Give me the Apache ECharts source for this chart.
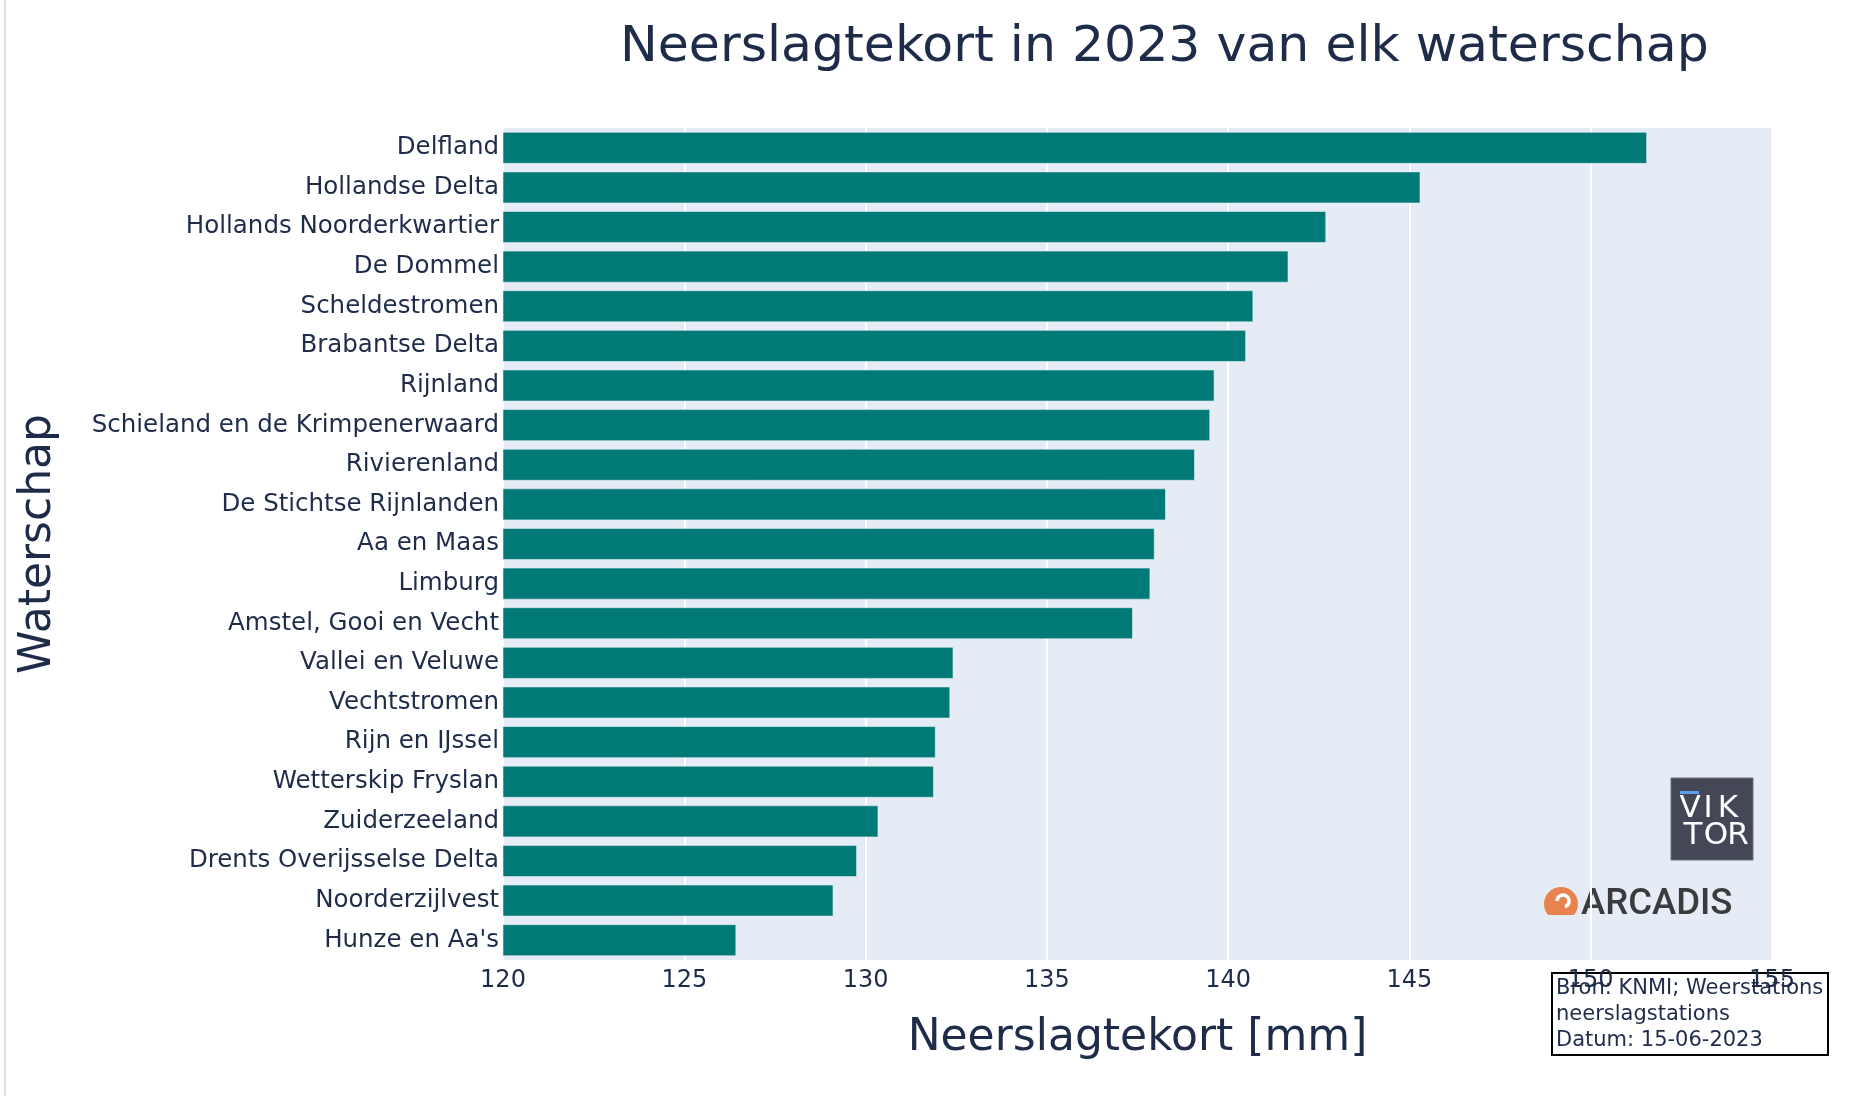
<!DOCTYPE html>
<html>
<head>
<meta charset="utf-8">
<script src="https://cdn.jsdelivr.net/npm/echarts@6/dist/echarts.min.js"></script>
<style>
  html, body { margin: 0; padding: 0; background: #fff; }
  #chart { width: 1860px; height: 1096px; }
</style>
</head>
<body>
<div id="chart"></div>
<script>
// waterschappen, top to bottom as in the picture
var waterschappen = [
  "Delfland", "Hollandse Delta", "Hollands Noorderkwartier", "De Dommel",
  "Scheldestromen", "Brabantse Delta", "Rijnland", "Schieland en de Krimpenerwaard",
  "Rivierenland", "De Stichtse Rijnlanden", "Aa en Maas", "Limburg",
  "Amstel, Gooi en Vecht", "Vallei en Veluwe", "Vechtstromen", "Rijn en IJssel",
  "Wetterskip Fryslan", "Zuiderzeeland", "Drents Overijsselse Delta",
  "Noorderzijlvest", "Hunze en Aa's"
];
// neerslagtekort in mm
var tekort = [
  151.55, 145.30, 142.70, 141.66,
  140.69, 140.49, 139.62, 139.50,
  139.08, 138.28, 137.97, 137.85,
  137.37, 132.42, 132.33, 131.93,
  131.88, 130.35, 129.76,
  129.11, 126.43
];
var xMin = 120, xMax = 155, xStep = 5;
var bronRegels = ["Bron: KNMI; Weerstations", "neerslagstations", "Datum: 15-06-2023"];

var navy = "#1e2c4a";
var font = "DejaVu Sans";

function logoLetter(ch, x, y) {
  return {
    type: "text",
    style: { x: x, y: y, text: ch, fill: "#ffffff", fontFamily: font, fontSize: 31,
             textAlign: "center", verticalAlign: "middle" }
  };
}

var myChart = echarts.init(document.getElementById("chart"));

var option = {
  backgroundColor: "#fff",
  textStyle: { fontFamily: font, color: navy },
  title: {
    text: "Neerslagtekort in 2023 van elk waterschap",
    left: 615,
    top: 17,
    textStyle: { fontFamily: font, fontSize: 50.5, fontWeight: "normal", color: navy }
  },
  grid: {
    left: 503,
    right: 88,
    top: 128,
    bottom: 136,
    show: true,
    backgroundColor: "#E5ECF6",
    borderWidth: 0
  },
  xAxis: {
    type: "value",
    min: xMin,
    max: xMax,
    interval: xStep,
    name: "Neerslagtekort [mm]",
    nameLocation: "middle",
    nameGap: 57,
    nameTextStyle: { fontFamily: font, fontSize: 44, color: navy },
    axisLine: { show: false },
    axisTick: { show: false },
    axisLabel: { fontFamily: font, fontSize: 24, color: navy, margin: 9 },
    splitLine: { show: true, lineStyle: { color: "#ffffff", width: 2 } }
  },
  yAxis: {
    type: "category",
    data: waterschappen,
    inverse: true,
    name: "Waterschap",
    nameLocation: "middle",
    nameGap: 442,
    nameRotate: 90,
    nameTextStyle: { fontFamily: font, fontSize: 44, color: navy },
    axisLine: { show: false },
    axisTick: { show: false },
    axisLabel: { fontFamily: font, fontSize: 24.5, color: navy, margin: 4 },
    splitLine: { show: false }
  },
  series: [
    {
      type: "bar",
      data: tekort,
      barCategoryGap: "20%",
      itemStyle: { color: "#017A77", borderColor: "#E5ECF6", borderWidth: 0.6 },
      silent: true
    }
  ],
  graphic: [
    // thin grey edge on the left of the image
    { type: "line", shape: { x1: 5, y1: 0, x2: 5, y2: 1096 }, style: { stroke: "#e2e2e2", lineWidth: 2 } },
    // VIKTOR logo
    { type: "rect", shape: { x: 1671, y: 778, width: 82, height: 82 }, style: { fill: "#434756", stroke: "#6e717d", lineWidth: 1 } },
    { type: "rect", shape: { x: 1680, y: 791, width: 19, height: 3 }, style: { fill: "#5b9ff0" } },
    logoLetter("V", 1690, 809), logoLetter("I", 1708, 809), logoLetter("K", 1728, 809),
    logoLetter("T", 1693, 836), logoLetter("O", 1716, 836), logoLetter("R", 1738, 836),
    // ARCADIS logo
    { type: "circle", shape: { cx: 1561, cy: 904, r: 17 }, style: { fill: "#e8834f" } },
    { type: "rect", shape: { x: 1542, y: 915, width: 38, height: 8 }, style: { fill: "#E5ECF6" } },
    { type: "arc", shape: { cx: 1563, cy: 901, r: 6, startAngle: Math.PI, endAngle: Math.PI * 2.4 }, style: { stroke: "#ffffff", lineWidth: 3.5, fill: "none" } },
    { type: "text", style: { x: 1581, y: 905, text: "ARCADIS", fill: "#3b3b3d", fontFamily: "Roboto", fontWeight: 500, fontSize: 36.5, verticalAlign: "middle", textAlign: "left" } },
    // source note
    { type: "rect", shape: { x: 1552, y: 973, width: 276, height: 82 }, style: { fill: "none", stroke: "#000000", lineWidth: 2 } },
    { type: "text", style: { x: 1556, y: 989, text: bronRegels[0], fill: navy, fontFamily: font, fontSize: 21, verticalAlign: "middle" } },
    { type: "text", style: { x: 1556, y: 1015, text: bronRegels[1], fill: navy, fontFamily: font, fontSize: 21, verticalAlign: "middle" } },
    { type: "text", style: { x: 1556, y: 1041, text: bronRegels[2], fill: navy, fontFamily: font, fontSize: 21, verticalAlign: "middle" } }
  ]
};

myChart.setOption(option);
</script>
</body>
</html>
